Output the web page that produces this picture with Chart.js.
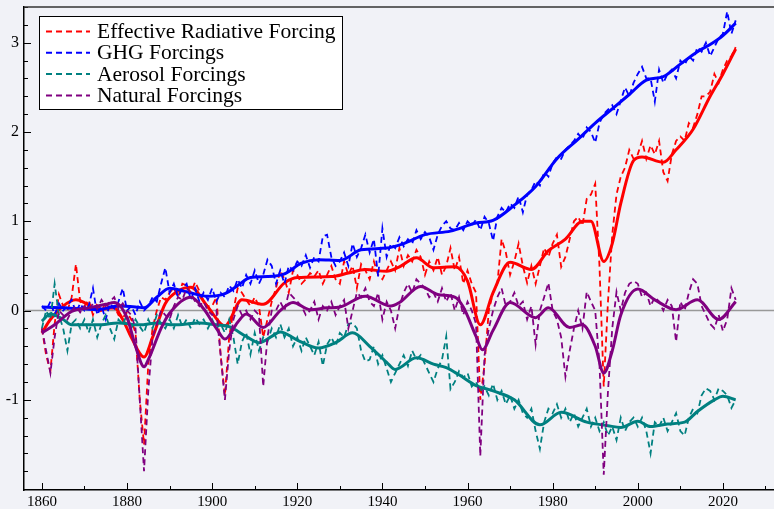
<!DOCTYPE html>
<html>
<head>
<meta charset="utf-8">
<script src="https://cdn.jsdelivr.net/npm/chart.js@4.4.0/dist/chart.umd.min.js"></script>
<style>
  html, body { margin: 0; padding: 0; background: #f1f2f7; }
  canvas { display: block; }
</style>
</head>
<body>
<canvas id="forcing" width="774" height="509"></canvas>
<script>
// annual series, first value is 1860
const startYear = 1860;

const erfAnnual = [
  -0.2, -0.5, -0.68, -0.15, 0.18, 0.05, 0.0, 0.15, 0.52, 0.1,
  0.05, 0.12, -0.05, 0.08, -0.02, 0.1, 0.0, 0.05, -0.05, -0.08,
  -0.02, -0.1, -0.25, -1.0, -1.5, -0.6, -0.2, 0.0, 0.15, 0.12,
  0.2, 0.25, 0.15, 0.3, 0.28, 0.2, 0.32, 0.22, 0.1, 0.05,
  0.05, 0.15, -0.5, -0.95, -0.3, 0.0, 0.25, 0.2, 0.12, 0.05,
  0.15, 0.05, -0.3, -0.1, 0.1, 0.25, 0.45, 0.35, 0.2, 0.45,
  0.4, 0.3, 0.35, 0.42, 0.38, 0.45, 0.3, 0.4, 0.5, 0.35,
  0.3, 0.55, 0.4, 0.5, 0.25, 0.52, 0.45, 0.35, 0.55, 0.4,
  0.35, 0.45, 0.55, 0.45, 0.7, 0.5, 0.62, 0.55, 0.68, 0.6,
  0.4, 0.55, 0.45, 0.6, 0.4, 0.5, 0.7, 0.45, 0.6, 0.3,
  0.45, 0.3, 0.2, -1.0, -0.6, 0.0, 0.2, 0.3, 0.8, 0.65,
  0.4, 0.55, 0.75, 0.5, 0.31, 0.5, 0.3, 0.5, 0.7, 0.6,
  0.75, 0.85, 0.49, 0.6, 0.8, 1.0, 1.05, 0.95, 1.25, 1.3,
  1.42, 0.5, -0.85, 0.1, 0.85, 1.3, 1.5, 1.6, 1.8, 1.7,
  1.75, 1.9, 1.7, 1.85, 1.75, 1.9, 1.55, 1.45, 1.75, 1.9,
  1.95, 1.9, 2.1, 2.05, 2.2, 2.4, 2.4, 2.45, 2.65, 2.55,
  2.7, 2.8, 2.85, 2.95
];

const ghgAnnual = [
  0.05, 0.0, 0.1, -0.05, 0.08, 0.0, 0.05, 0.12, -0.02, 0.08,
  0.0, 0.05, 0.25, -0.05, 0.05, -0.1, 0.08, 0.02, 0.1, 0.25,
  0.0, 0.05, -0.05, 0.1, 0.0, 0.05, 0.15, 0.1, 0.3, 0.48,
  0.2, 0.3, 0.15, 0.25, 0.3, 0.12, 0.25, 0.1, 0.2, 0.12,
  0.25, 0.1, 0.2, 0.15, 0.28, 0.22, 0.35, 0.25, 0.4, 0.3,
  0.45, 0.3, 0.4, 0.57, 0.5, 0.3, 0.45, 0.3, 0.5, 0.45,
  0.55, 0.5, 0.62, 0.48, 0.6, 0.55, 0.83, 0.85, 0.6, 0.5,
  0.55, 0.65, 0.5, 0.75, 0.6, 0.7, 0.85, 0.65, 0.8, 0.38,
  0.92, 0.6, 0.75, 0.7, 0.82, 0.72, 0.8, 0.75, 0.9, 0.8,
  0.88, 0.82, 0.68, 0.85, 0.95, 1.0, 0.92, 0.9, 0.98, 0.9,
  1.0, 0.95, 1.02, 0.9, 1.05, 0.98, 0.78, 1.05, 1.15, 1.1,
  1.2, 1.15, 1.28, 1.1, 1.3, 1.35, 1.45, 1.4, 1.55, 1.5,
  1.65, 1.72, 1.7, 1.8, 1.85, 1.9, 1.98, 1.92, 2.05, 2.0,
  1.88, 2.1, 2.2, 2.25, 2.3, 2.2, 2.35, 2.5, 2.4, 2.55,
  2.65, 2.73, 2.6, 2.6, 2.34, 2.7, 2.55, 2.65, 2.7, 2.6,
  2.8, 2.75, 2.85, 2.8, 2.95, 2.9, 3.0, 2.85, 2.95, 3.05,
  3.1, 3.35, 3.1, 3.25
];

const aerosolAnnual = [
  -0.2, 0.0, -0.1, 0.3, -0.05, -0.2, -0.45, -0.15, -0.1, -0.2,
  -0.1, -0.25, -0.1, -0.3, -0.15, -0.05, -0.2, -0.32, -0.1, -0.15,
  -0.05, -0.2, -0.1, -0.18, -0.25, -0.1, -0.2, -0.05, -0.15, -0.2,
  -0.1, -0.2, -0.05, -0.18, -0.1, -0.2, -0.08, -0.15, -0.1, -0.2,
  -0.1, -0.2, -0.15, -0.25, -0.1, -0.3, -0.6, -0.35, -0.25, -0.49,
  -0.25, -0.45, -0.3, -0.35, -0.2, -0.3, -0.15, -0.3, -0.2, -0.4,
  -0.3, -0.45, -0.3, -0.4, -0.5, -0.35, -0.62, -0.38, -0.3, -0.4,
  -0.25, -0.3, -0.15, -0.14, -0.2, -0.45, -0.57, -0.55, -0.4, -0.6,
  -0.5, -0.65, -0.8, -0.7, -0.6, -0.5, -0.62, -0.45, -0.55, -0.5,
  -0.6, -0.7, -0.8, -0.65, -0.55, -0.29, -0.88, -0.8, -0.68, -0.75,
  -0.7, -0.85, -0.8, -0.9, -0.85, -0.95, -0.82, -1.0, -0.9, -1.05,
  -0.95, -1.1, -1.0, -1.15, -1.2, -1.1, -1.35, -1.55, -1.25, -1.1,
  -1.15, -1.05, -1.2, -1.1, -1.25, -1.15, -1.3, -1.2, -1.1, -1.3,
  -1.2, -1.35, -1.25, -1.4, -1.3, -1.45, -1.2, -1.35, -1.25, -1.2,
  -1.3, -1.2, -1.35, -1.6, -1.25, -1.3, -1.2, -1.35, -1.25, -1.15,
  -1.35, -1.4, -1.2, -1.1, -1.15, -0.95, -0.87, -0.9, -1.0, -0.87,
  -0.9, -0.95, -1.09, -1.0
];

const naturalAnnual = [
  -0.2, -0.45, -0.7, -0.3, 0.0, -0.05, -0.1, 0.0, 0.05, -0.02,
  0.05, 0.0, 0.08, 0.02, 0.12, 0.05, 0.1, 0.15, 0.02, 0.08,
  0.0, -0.05, -0.2, -1.0, -1.8, -0.9, -0.3, -0.15, 0.0, -0.05,
  -0.1, 0.05, 0.15, 0.12, 0.25, 0.2, 0.1, 0.05, 0.1, 0.0,
  -0.05, 0.0, -0.5, -1.0, -0.45, -0.1, 0.05, -0.05, 0.0, -0.1,
  0.0, -0.05, -0.85, -0.3, 0.0, 0.0, 0.1, 0.0, 0.2, 0.15,
  0.1, 0.05, -0.05, 0.0, 0.1, -0.1, 0.05, 0.0, 0.1, -0.05,
  0.05, 0.12, -0.2, 0.0, 0.2, 0.15, 0.25, 0.1, 0.05, 0.2,
  -0.1, 0.1, 0.0, -0.2, 0.05, 0.2, 0.3, 0.2, 0.35, 0.3,
  0.25, 0.15, 0.2, 0.1, 0.25, 0.1, 0.2, 0.0, 0.15, -0.05,
  0.1, 0.0, -0.15, -1.63, -0.5, -0.2, 0.0, 0.15, 0.25, 0.05,
  0.1, 0.2, 0.05, 0.1, -0.1, 0.05, -0.38, 0.0, 0.15, 0.31,
  0.0, -0.1, -0.3, -0.74, -0.45, -0.2, 0.0, -0.2, 0.21, 0.1,
  0.0, -0.6, -1.84, -0.9, -0.2, 0.21, 0.0, 0.2, 0.3, 0.33,
  0.3, 0.15, 0.2, 0.05, 0.15, 0.1, 0.0, 0.12, 0.05, -0.35,
  0.1, 0.0, 0.2, 0.35, 0.3, 0.05, -0.05, -0.15, -0.2, -0.05,
  -0.23, -0.1, 0.25, 0.12
];

// smoothed curves, read at irregular years
const erfSmYears = [1860, 1862, 1865, 1868, 1870, 1873, 1877, 1879, 1881, 1884, 1886, 1889, 1892, 1895, 1899, 1903, 1907, 1912, 1917, 1920, 1928, 1932, 1936, 1941, 1944, 1948, 1952, 1957, 1960, 1963, 1966, 1970, 1975, 1979, 1983, 1987, 1989, 1992, 1994, 1996, 1999, 2001, 2006, 2009, 2013, 2017, 2020, 2023];
const erfSmVals  = [-0.25, -0.1, 0.05, 0.12, 0.09, 0.01, 0.03, -0.1, -0.3, -0.52, -0.3, 0.08, 0.22, 0.26, 0.04, -0.17, 0.12, 0.07, 0.31, 0.37, 0.38, 0.42, 0.46, 0.44, 0.49, 0.59, 0.48, 0.49, 0.33, -0.16, 0.2, 0.54, 0.46, 0.67, 0.8, 1.0, 1.0, 0.55, 0.75, 1.2, 1.68, 1.72, 1.66, 1.8, 2.03, 2.4, 2.65, 2.93];

const ghgSmYears = [1860, 1865, 1870, 1873, 1878, 1882, 1884, 1887, 1890, 1894, 1899, 1903, 1906, 1909, 1913, 1917, 1921, 1925, 1930, 1935, 1941, 1945, 1950, 1956, 1962, 1966, 1971, 1976, 1981, 1986, 1990, 1994, 1998, 2002, 2006, 2010, 2014, 2017, 2020, 2023];
const ghgSmVals  = [0.04, 0.03, 0.02, 0.01, 0.05, 0.04, 0.03, 0.15, 0.25, 0.21, 0.16, 0.19, 0.28, 0.37, 0.38, 0.41, 0.53, 0.57, 0.56, 0.68, 0.7, 0.75, 0.85, 0.89, 0.98, 1.01, 1.18, 1.39, 1.7, 1.92, 2.1, 2.26, 2.42, 2.58, 2.62, 2.76, 2.9, 2.98, 3.08, 3.22];

const aerosolSmYears = [1860, 1862, 1865, 1867, 1873, 1878, 1883, 1887, 1891, 1897, 1901, 1904, 1908, 1911, 1914, 1916, 1920, 1925, 1929, 1933, 1937, 1941, 1943, 1948, 1952, 1955, 1958, 1962, 1966, 1971, 1977, 1982, 1988, 1993, 1996, 2000, 2003, 2007, 2011, 2014, 2018, 2020, 2023];
const aerosolSmVals  = [-0.12, -0.04, -0.1, -0.16, -0.16, -0.14, -0.16, -0.14, -0.16, -0.14, -0.16, -0.18, -0.29, -0.36, -0.29, -0.24, -0.33, -0.42, -0.36, -0.25, -0.4, -0.58, -0.66, -0.53, -0.6, -0.64, -0.72, -0.84, -0.9, -1.0, -1.28, -1.14, -1.25, -1.29, -1.31, -1.24, -1.3, -1.27, -1.25, -1.13, -1.0, -0.96, -1.0];

const naturalSmYears = [1860, 1863, 1865, 1867, 1871, 1875, 1877, 1880, 1882, 1884, 1885, 1888, 1890, 1895, 1898, 1901, 1903, 1906, 1908, 1912, 1916, 1919, 1923, 1927, 1930, 1936, 1942, 1944, 1949, 1953, 1957, 1959, 1962, 1963.5, 1966, 1970, 1976, 1979, 1984, 1987, 1990, 1992, 1994, 1996, 2000, 2004, 2009, 2014, 2019, 2023];
const naturalSmVals  = [-0.25, -0.16, -0.08, -0.01, 0.03, 0.07, 0.09, -0.08, -0.4, -0.63, -0.55, -0.2, -0.03, 0.15, 0.02, -0.2, -0.32, -0.13, -0.04, -0.19, 0.0, 0.09, 0.01, 0.03, 0.04, 0.16, 0.05, 0.09, 0.27, 0.18, 0.15, 0.04, -0.29, -0.44, -0.22, 0.09, -0.08, 0.03, -0.19, -0.16, -0.4, -0.7, -0.45, -0.05, 0.24, 0.12, 0.01, 0.12, -0.1, 0.1];

const seriesNames = ['Effective Radiative Forcing', 'GHG Forcings', 'Aerosol Forcings', 'Natural Forcings'];
const seriesColors = ['#ff0000', '#0000ff', '#008080', '#800080'];

const yMajor = [-1, 0, 1, 2, 3];
const xMajor = [1860, 1880, 1900, 1920, 1940, 1960, 1980, 2000, 2020];

const serif = "'Liberation Serif', 'Times New Roman', serif";

const annualPts = arr => arr.map((v, i) => ({x: startYear + i, y: v}));
const smoothPts = (yrs, vals) => yrs.map((yr, i) => ({x: yr, y: vals[i]}));

const annual = [erfAnnual, ghgAnnual, aerosolAnnual, naturalAnnual];
const smooth = [[erfSmYears, erfSmVals], [ghgSmYears, ghgSmVals], [aerosolSmYears, aerosolSmVals], [naturalSmYears, naturalSmVals]];

// purple ends up on top, red at the bottom
const datasets = [];
seriesNames.forEach((nm, k) => {
  datasets.push({
    label: nm,
    data: annualPts(annual[k]),
    borderColor: seriesColors[k],
    borderWidth: 1.8,
    borderDash: [6, 4],
    pointRadius: 0,
    tension: 0,
    order: 20 - k * 2
  });
  datasets.push({
    label: nm + ' (smoothed)',
    data: smoothPts(smooth[k][0], smooth[k][1]),
    borderColor: seriesColors[k],
    borderWidth: 3,
    pointRadius: 0,
    cubicInterpolationMode: 'monotone',
    order: 19 - k * 2
  });
});

const framePlugin = {
  id: 'frame',
  beforeDraw(chart) {
    const c = chart.ctx;
    c.save();
    c.fillStyle = '#f1f2f7';
    c.fillRect(0, 0, chart.width, chart.height);
    c.restore();
  },
  beforeDatasetsDraw(chart) {
    const c = chart.ctx, a = chart.chartArea, ys = chart.scales.y;
    const y0 = ys.getPixelForValue(0);
    c.save();
    c.strokeStyle = '#999999';
    c.lineWidth = 1.5;
    c.beginPath();
    c.moveTo(a.left, y0);
    c.lineTo(a.right, y0);
    c.stroke();
    c.restore();
  },
  afterDraw(chart) {
    const c = chart.ctx, a = chart.chartArea;
    const xs = chart.scales.x, ys = chart.scales.y;
    c.save();
    c.strokeStyle = '#000';
    c.lineWidth = 1;
    // inward tick marks
    for (let yr = 1860; yr <= 2030; yr += 10) {
      const px = Math.round(xs.getPixelForValue(yr)) + 0.5;
      const len = (yr % 20 === 0) ? 7 : 4;
      c.beginPath();
      c.moveTo(px, a.bottom);
      c.lineTo(px, a.bottom - len);
      c.stroke();
    }
    for (let i = -9; i <= 17; i++) {
      const v = i / 5;
      const py = Math.round(ys.getPixelForValue(v)) + 0.5;
      const len = (i % 5 === 0) ? 7 : 4;
      c.beginPath();
      c.moveTo(a.left, py);
      c.lineTo(a.left + len, py);
      c.stroke();
    }
    // top frame line
    c.strokeStyle = '#333';
    c.lineWidth = 1.5;
    c.beginPath();
    c.moveTo(a.left, a.top);
    c.lineTo(a.right, a.top);
    c.stroke();

    // legend box
    const bx = 39.5, by = 16.5, bw = 303, bh = 93;
    c.fillStyle = '#ffffff';
    c.fillRect(bx, by, bw, bh);
    c.strokeStyle = '#000';
    c.lineWidth = 1;
    c.strokeRect(bx, by, bw, bh);
    c.font = '21.5px ' + serif;
    c.textBaseline = 'middle';
    seriesNames.forEach((nm, k) => {
      const ry = 31.5 + k * 21.3;
      c.strokeStyle = seriesColors[k];
      c.lineWidth = 2;
      c.setLineDash([6, 4]);
      c.beginPath();
      c.moveTo(46, ry);
      c.lineTo(90, ry);
      c.stroke();
      c.setLineDash([]);
      c.fillStyle = '#000';
      c.fillText(nm, 97, ry + 1);
    });
    c.restore();
  }
};

new Chart(document.getElementById('forcing'), {
  type: 'line',
  data: { datasets: datasets },
  options: {
    responsive: false,
    animation: false,
    devicePixelRatio: 1,
    layout: { padding: { top: 7, right: 0, left: 0, bottom: 0 } },
    plugins: { legend: { display: false }, tooltip: { enabled: false } },
    scales: {
      x: {
        type: 'linear',
        min: 1855.8,
        max: 2032,
        afterBuildTicks: s => { s.ticks = xMajor.map(v => ({value: v})); },
        afterFit: s => { s.height = 19; s.paddingLeft = 0; s.paddingRight = 0; },
        grid: { display: false, drawTicks: false },
        border: { display: true, color: '#000', width: 1.5 },
        ticks: {
          color: '#000',
          padding: 3,
          maxRotation: 0,
          font: { family: serif, size: 15 },
          callback: v => String(v)
        }
      },
      y: {
        min: -2.01,
        max: 3.4,
        afterBuildTicks: s => { s.ticks = yMajor.map(v => ({value: v})); },
        afterFit: s => { s.width = 24; s.paddingTop = 0; s.paddingBottom = 0; },
        grid: { display: false, drawTicks: false },
        border: { display: true, color: '#000', width: 1.5 },
        ticks: {
          color: '#000',
          padding: 5,
          font: { family: serif, size: 16 },
          callback: v => String(v)
        }
      }
    }
  },
  plugins: [framePlugin]
});
</script>
</body>
</html>
